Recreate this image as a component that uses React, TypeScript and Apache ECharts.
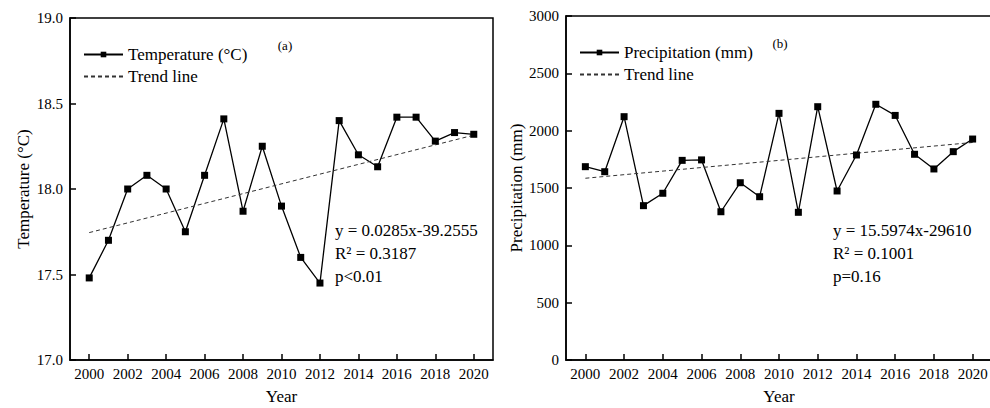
import React, { useEffect, useRef } from "react";
import * as echarts from "echarts";

const years = [2000, 2001, 2002, 2003, 2004, 2005, 2006, 2007, 2008, 2009, 2010, 2011, 2012, 2013, 2014, 2015, 2016, 2017, 2018, 2019, 2020];
const temperature = [17.48, 17.70, 18.00, 18.08, 18.00, 17.75, 18.08, 18.41, 17.87, 18.25, 17.90, 17.60, 17.45, 18.40, 18.20, 18.13, 18.42, 18.42, 18.28, 18.33, 18.32];
const precipitation = [1686, 1642, 2122, 1346, 1454, 1741, 1745, 1293, 1546, 1424, 2151, 1288, 2209, 1474, 1788, 2230, 2133, 1794, 1666, 1817, 1927];
const trendYears = [2000, 2020];
const tempTrend = [17.745, 18.315];
const precipTrend = [1585, 1897];
const xTickLabels = [2000, 2002, 2004, 2006, 2008, 2010, 2012, 2014, 2016, 2018, 2020];
const tempAnnotation = ["y = 0.0285x-39.2555", "R² = 0.3187", "p<0.01"];
const precipAnnotation = ["y = 15.5974x-29610", "R² = 0.1001", "p=0.16"];

const FONT = "Liberation Serif";

export default function App() {
  const ref = useRef<HTMLDivElement>(null);
  useEffect(() => {
    if (!ref.current) return;
    const chart = echarts.init(ref.current, null, { renderer: "svg" });
    const xAxisBase = (gridIndex: number) => ({
      type: "value",
      gridIndex,
      min: 1999,
      max: 2021,
      name: "Year",
      nameLocation: "middle",
      nameGap: 28,
      nameTextStyle: { fontFamily: FONT, fontSize: 17, color: "#000" },
      axisLine: { show: true, lineStyle: { color: "#000", width: 1.5 } },
      axisTick: { show: true, inside: true, length: 6, customValues: xTickLabels, lineStyle: { color: "#000", width: 1.5 } },
      axisLabel: { customValues: xTickLabels, margin: 6, fontFamily: FONT, fontSize: 15, color: "#000", formatter: (v: number) => String(v) },
      splitLine: { show: false },
    });
    const yAxisBase = (gridIndex: number, name: string, min: number, max: number, interval: number, digits: number) => ({
      type: "value",
      gridIndex,
      min,
      max,
      interval,
      name,
      nameLocation: "middle",
      nameGap: 38,
      nameTextStyle: { fontFamily: FONT, fontSize: 17, color: "#000" },
      axisLine: { show: true, lineStyle: { color: "#000", width: 1.5 } },
      axisTick: { show: true, inside: true, length: 6, lineStyle: { color: "#000", width: 1.5 } },
      axisLabel: { margin: 7, fontFamily: FONT, fontSize: 15, color: "#000", formatter: (v: number) => v.toFixed(digits) },
      splitLine: { show: false },
    });
    const annot = (x: number, lines: string[]) =>
      lines.map((t, i) => ({
        type: "text",
        x,
        y: 230 + i * 23,
        style: { text: t, fontFamily: FONT, fontSize: 17, fill: "#000", textVerticalAlign: "middle" },
      }));
    const lineSeries = (name: string, xi: number, data: number[]) => ({
      name,
      type: "line",
      xAxisIndex: xi,
      yAxisIndex: xi,
      data: years.map((y, i) => [y, data[i]]),
      symbol: "rect",
      symbolSize: 7,
      lineStyle: { color: "#000", width: 1.3 },
      itemStyle: { color: "#000" },
    });
    const trendSeries = (xi: number, data: number[]) => ({
      name: "Trend line",
      type: "line",
      xAxisIndex: xi,
      yAxisIndex: xi,
      data: trendYears.map((y, i) => [y, data[i]]),
      symbol: "none",
      lineStyle: { color: "#333", width: 1, type: [4, 3] },
      itemStyle: { color: "#333" },
    });
    const legendBase = (left: number, top: number, names: string[]) => ({
      left,
      top,
      orient: "vertical",
      itemWidth: 39,
      itemHeight: 7,
      itemGap: 5,
      data: [names[0], { name: names[1], itemStyle: { opacity: 0 } }],
      textStyle: { fontFamily: FONT, fontSize: 17, color: "#000" },
    });
    chart.setOption({
      animation: false,
      grid: [
        { left: 70, top: 18, width: 423, height: 342, outerBoundsMode: "none", containLabel: false, show: true, borderColor: "#000", borderWidth: 1.5, backgroundColor: "transparent" },
        { left: 566, top: 16, width: 426, height: 344, outerBoundsMode: "none", containLabel: false, show: true, borderColor: "#000", borderWidth: 1.5, backgroundColor: "transparent" },
      ],
      xAxis: [xAxisBase(0), xAxisBase(1)],
      yAxis: [
        yAxisBase(0, "Temperature (°C)", 17, 19, 0.5, 1),
        yAxisBase(1, "Precipitation (mm)", 0, 3000, 500, 0),
      ],
      legend: [
        legendBase(78, 41, ["Temperature (°C)", "Trend line"]),
        legendBase(574, 39, ["Precipitation (mm)", "Trend line"]),
      ],
      series: [
        lineSeries("Temperature (°C)", 0, temperature),
        trendSeries(0, tempTrend),
        lineSeries("Precipitation (mm)", 1, precipitation),
        trendSeries(1, precipTrend),
      ],
      graphic: [
        { type: "text", x: 285, y: 45, style: { text: "(a)", fontFamily: FONT, fontSize: 13, fill: "#000", textAlign: "center", textVerticalAlign: "middle" } },
        { type: "text", x: 780, y: 43, style: { text: "(b)", fontFamily: FONT, fontSize: 13, fill: "#000", textAlign: "center", textVerticalAlign: "middle" } },
        ...annot(335, tempAnnotation),
        ...annot(833, precipAnnotation),
      ],
    });
    return () => chart.dispose();
  }, []);
  return <div ref={ref} style={{ width: 990, height: 408, position: "absolute", left: 0, top: 0 }} />;
}
